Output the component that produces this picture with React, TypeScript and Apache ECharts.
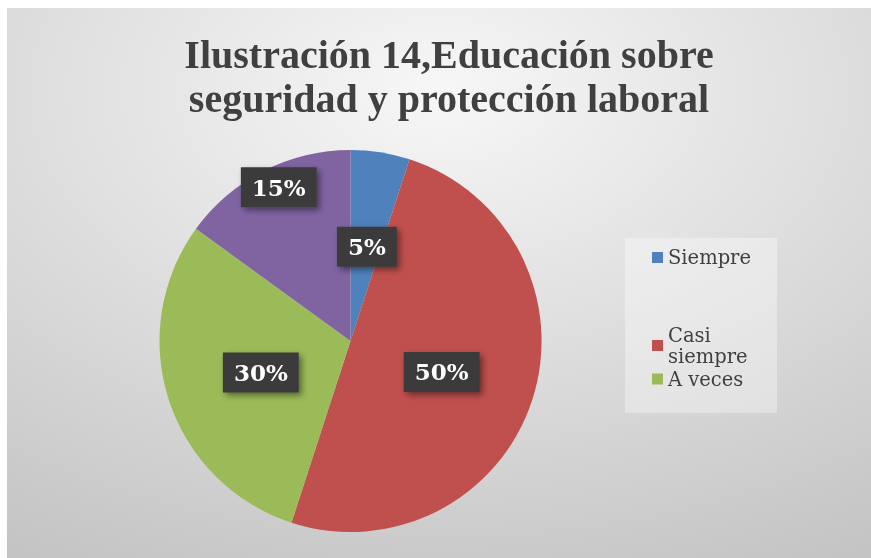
import React, { useEffect, useRef } from "react";
import * as echarts from "echarts";

const categories = ["Siempre", "Casi siempre", "A veces", "Nunca"];
const values = [5, 50, 30, 15];
const colors = ["#4f81bd", "#c0504d", "#9bbb59", "#8064a2"];
const legendNames = ["Siempre", "Casi siempre", "A veces"];
const titleText = "Ilustración 14,Educación sobre\nseguridad y protección laboral";

export default function App() {
  const ref = useRef<HTMLDivElement>(null);
  useEffect(() => {
    document.documentElement.style.overflow = "hidden";
    const chart = echarts.init(ref.current!, null, { renderer: "svg" });
    const legendText = {
      fontFamily: "DejaVu Serif",
      fontSize: 19.5,
      color: "#404040",
      lineHeight: 23,
    };
    const legendBase = {
      orient: "vertical" as const,
      left: 640,
      icon: "rect",
      itemWidth: 11,
      itemHeight: 11,
      itemGap: 0,
      selectedMode: false,
    };
    const labelShift = [
      { dx: 1, dy: 3 },
      { dx: -2.5, dy: 0.5 },
      { dx: 4, dy: 1 },
      { dx: -27, dy: -66 },
    ];
    chart.setOption({
      animation: false,
      backgroundColor: new echarts.graphic.RadialGradient(0.5, 0.15, 1.0, [
        { offset: 0, color: "#f7f7f7" },
        { offset: 1, color: "#c2c2c2" },
      ]),
      title: {
        text: titleText,
        left: 437,
        top: 19,
        textAlign: "center",
        textStyle: {
          fontFamily: "Liberation Serif",
          fontWeight: "bold",
          fontSize: 40,
          lineHeight: 44,
          color: "#404040",
        },
      },
      graphic: [
        {
          type: "rect",
          shape: { x: 618, y: 230, width: 152, height: 175 },
          style: { fill: "rgba(255,255,255,0.35)" },
          z: -1,
        },
      ],
      legend: [
        { ...legendBase, top: 233, data: [legendNames[0]], textStyle: legendText },
        {
          ...legendBase,
          top: 301,
          data: [legendNames[1]],
          formatter: () => "Casi\nsiempre",
          textStyle: { ...legendText, lineHeight: 21, padding: [21, 0, 0, 0] },
        },
        {
          ...legendBase,
          top: 356,
          data: [legendNames[2]],
          textStyle: { ...legendText, lineHeight: 18 },
        },
      ],
      series: [
        {
          type: "pie",
          center: [343.5, 333],
          radius: 191,
          startAngle: 90,
          clockwise: true,
          silent: true,
          data: categories.map((name, i) => ({
            name,
            value: values[i],
            itemStyle: { color: colors[i] },
          })),
          label: {
            show: true,
            position: "inside",
            formatter: "{d}%",
            fontFamily: "DejaVu Serif",
            fontWeight: "bold",
            fontSize: 23,
            color: "#ffffff",
            backgroundColor: "#3a3a3a",
            padding: [9, 11, 8, 11],
            shadowColor: "rgba(0,0,0,0.45)",
            shadowBlur: 6,
            shadowOffsetX: 3,
            shadowOffsetY: 3,
          },
          labelLayout: (p: any) => labelShift[p.dataIndex],
          labelLine: { show: false },
        },
      ],
    });
    return () => chart.dispose();
  }, []);
  return (
    <div
      ref={ref}
      style={{ position: "fixed", left: 7, top: 8, width: 864, height: 550 }}
    />
  );
}
